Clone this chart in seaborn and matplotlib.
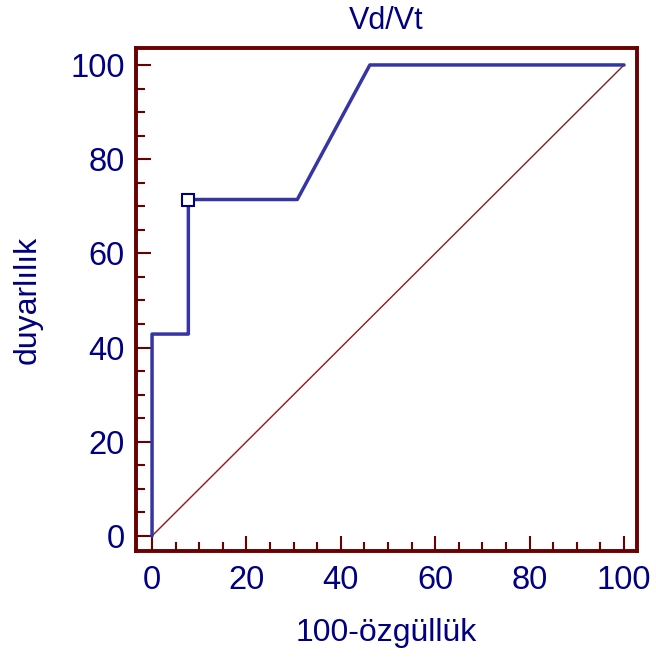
import numpy as np
import pandas as pd
import matplotlib
matplotlib.use('Agg')
import matplotlib.pyplot as plt
import seaborn as sns
from matplotlib.ticker import MultipleLocator

# ROC curve points (100-specificity, sensitivity)
fpr = [0, 0, 7.69, 7.69, 30.77, 46.15, 100]
tpr = [0, 42.86, 42.86, 71.43, 71.43, 100, 100]
# optimal cut-off point
best_fpr = [7.69]
best_tpr = [71.43]
diag = [0, 100]

title = 'Vd/Vt'
xlabel = '100-özgüllük'
ylabel = 'duyarlılık'

sns.set_theme(style='white')
plt.rcParams['font.family'] = ['Liberation Sans', 'DejaVu Sans']

frame_col = '#6b0000'
text_col = '#000080'
line_col = '#3535a3'

fig = plt.figure(figsize=(6.56, 6.57), dpi=100)
ax = fig.add_axes([136 / 656, 1 - 551 / 657, (637 - 136) / 656, (551 - 48) / 657])

roc = pd.DataFrame({'fpr': fpr, 'tpr': tpr})
ax.plot(diag, diag, color='#8b1a1a', lw=1.0, zorder=2)
sns.lineplot(data=roc, x='fpr', y='tpr', sort=False, estimator=None,
             color=line_col, lw=2.5, ax=ax, zorder=3)
ax.plot(best_fpr, best_tpr, marker='s', ms=8, mfc='white', mec=text_col,
        mew=1.5, ls='none', zorder=4)

ax.set_xlim(-3.4, 102.75)
ax.set_ylim(-3.2, 103.6)
ax.xaxis.set_major_locator(MultipleLocator(20))
ax.xaxis.set_minor_locator(MultipleLocator(5))
ax.yaxis.set_major_locator(MultipleLocator(20))
ax.yaxis.set_minor_locator(MultipleLocator(5))
ax.tick_params(which='both', direction='in', color=frame_col, width=1.5,
               bottom=True, left=True, top=False, right=False)
ax.tick_params(which='major', length=11, labelsize=23.5, labelcolor=text_col)
ax.tick_params(axis='x', which='major', pad=10)
ax.tick_params(axis='y', which='major', pad=8)
ax.tick_params(which='minor', length=6.5)

for s in ax.spines.values():
    s.set_color(frame_col)
    s.set_linewidth(2.8)

ax.set_title(title, color=text_col, fontsize=22, pad=14)
ax.set_xlabel(xlabel, color=text_col, fontsize=23, labelpad=16)
ax.set_ylabel(ylabel, color=text_col, fontsize=23, labelpad=20)

fig.savefig('out.png', dpi=100)
